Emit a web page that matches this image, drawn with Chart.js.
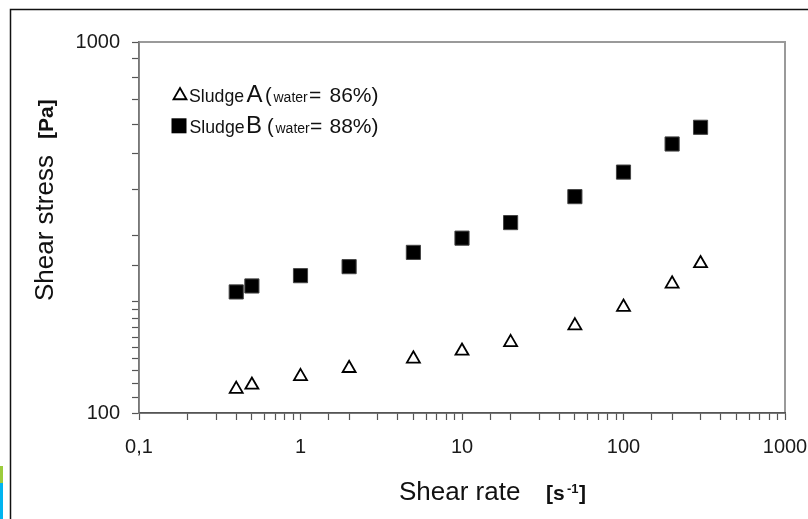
<!DOCTYPE html>
<html>
<head>
<meta charset="utf-8">
<script src="https://cdn.jsdelivr.net/npm/chart.js@4/dist/chart.umd.min.js"></script>
<style>
html,body{margin:0;padding:0;background:#fff;}
canvas{display:block;}
</style>
</head>
<body>
<canvas id="c" width="808" height="519"></canvas>
<script>
// ---- data ----
const shearRate = [0.4, 0.5, 1, 2, 5, 10, 20, 50, 100, 200, 300];
const sludgeA = [116, 119, 125.5, 132, 140, 147, 155, 172, 193, 223, 253];
const sludgeB = [212, 220, 234.5, 248, 271, 296, 326, 383, 446, 531, 589];
const xMajor = [0.1, 1, 10, 100, 1000];
const xTickLabels = ['0,1', '1', '10', '100', '1000'];
const yMajor = [100, 1000];
const yTickLabels = ['100', '1000'];

const FAM = '"Liberation Sans", Arial, Helvetica, sans-serif';

function labelFor(v, majors, labels) {
  for (let i = 0; i < majors.length; i++) {
    if (Math.abs(Math.log10(v) - Math.log10(majors[i])) < 1e-6) return labels[i];
  }
  return '';
}

function txt(ctx, s, x, y, size, bold) {
  ctx.font = (bold ? 'bold ' : '') + size + 'px ' + FAM;
  ctx.fillText(s, x, y);
}

const decor = {
  id: 'decor',
  beforeDraw(chart) {
    const ctx = chart.ctx;
    ctx.save();
    ctx.fillStyle = '#fff';
    ctx.fillRect(0, 0, chart.width, chart.height);
    ctx.strokeStyle = '#111';
    ctx.lineWidth = 1.5;
    ctx.strokeRect(10.5, 9.5, 1000, 1000);
    ctx.fillStyle = '#9ccc3c';
    ctx.fillRect(0, 466, 3, 17);
    ctx.fillStyle = '#00b4f0';
    ctx.fillRect(0, 483, 3, 36);
    const a = chart.chartArea;
    ctx.strokeStyle = '#9a9a9a';
    ctx.lineWidth = 2;
    ctx.strokeRect(a.left, a.top, a.right - a.left, a.bottom - a.top);
    ctx.restore();
  },
  afterDraw(chart) {
    const ctx = chart.ctx;
    ctx.save();
    ctx.textAlign = 'left';
    ctx.textBaseline = 'alphabetic';
    // legend line 1
    ctx.fillStyle = '#fff';
    ctx.strokeStyle = '#000';
    ctx.lineWidth = 1.8;
    Chart.helpers.drawPoint(ctx, {pointStyle: 'triangle', radius: 7.5, borderWidth: 1.8, rotation: 0}, 180, 95.5);
    ctx.fillStyle = '#111';
    txt(ctx, 'Sludge', 189, 101.5, 17.7, false);
    txt(ctx, 'A', 246.5, 101.5, 24, false);
    txt(ctx, '(', 265, 101.5, 20, false);
    txt(ctx, 'water', 273.5, 101.5, 14, false);
    txt(ctx, '=', 309, 101.5, 21, false);
    txt(ctx, '86%)', 329.5, 101.5, 21, false);
    // legend line 2
    ctx.fillStyle = '#000';
    ctx.fillRect(171.5, 118.3, 15, 15);
    ctx.fillStyle = '#111';
    txt(ctx, 'Sludge', 189.5, 133.3, 17.7, false);
    txt(ctx, 'B', 246, 133.3, 24, false);
    txt(ctx, '(', 267, 133.3, 20, false);
    txt(ctx, 'water', 275.5, 133.3, 14, false);
    txt(ctx, '=', 310, 133.3, 21, false);
    txt(ctx, '88%)', 329.5, 133.3, 21, false);
    // x title
    txt(ctx, 'Shear rate', 399, 500, 26, false);
    txt(ctx, '[s', 546, 500, 21, true);
    txt(ctx, '-1', 567, 493, 13, true);
    txt(ctx, ']', 579, 500, 21, true);
    // y title
    ctx.translate(53, 0);
    ctx.rotate(-Math.PI / 2);
    txt(ctx, 'Shear stress', -301, 0, 26, false);
    txt(ctx, '[Pa]', -139, 0, 21, true);
    ctx.restore();
  }
};

const tickFont = {size: 20, family: FAM};

new Chart(document.getElementById('c'), {
  type: 'scatter',
  data: {
    datasets: [
      {
        label: 'Sludge A',
        data: shearRate.map((x, i) => ({x: x, y: sludgeA[i]})),
        pointStyle: 'triangle',
        radius: 7.5,
        borderWidth: 1.8,
        borderColor: '#000',
        backgroundColor: '#fff',
        showLine: false
      },
      {
        label: 'Sludge B',
        data: shearRate.map((x, i) => ({x: x, y: sludgeB[i]})),
        pointStyle: 'rect',
        radius: 10,
        borderWidth: 1,
        borderColor: '#444',
        backgroundColor: '#000',
        showLine: false
      }
    ]
  },
  options: {
    responsive: false,
    animation: false,
    devicePixelRatio: 1,
    layout: {padding: {left: 0, top: 42, right: 23, bottom: 46}},
    plugins: {legend: {display: false}, tooltip: {enabled: false}},
    scales: {
      x: {
        type: 'logarithmic',
        min: 0.1,
        max: 1000,
        position: 'bottom',
        border: {display: true, color: '#555', width: 1.5},
        grid: {drawOnChartArea: false, drawTicks: true, tickLength: 7, tickColor: '#555', tickWidth: 1.2},
        ticks: {
          autoSkip: false, maxRotation: 0, padding: 15, color: '#1a1a1a', font: tickFont,
          callback: (v) => labelFor(v, xMajor, xTickLabels)
        },
        afterFit(s) { s.height = 60; s.paddingLeft = 0; s.paddingRight = 0; }
      },
      y: {
        type: 'logarithmic',
        min: 100,
        max: 1000,
        position: 'left',
        border: {display: true, color: '#777', width: 1.5},
        grid: {drawOnChartArea: false, drawTicks: true, tickLength: 7, tickColor: '#555', tickWidth: 1.2},
        ticks: {
          autoSkip: false, padding: 12, color: '#1a1a1a', font: tickFont,
          callback: (v) => labelFor(v, yMajor, yTickLabels)
        },
        afterFit(s) { s.width = 139; s.paddingTop = 0; s.paddingBottom = 0; }
      }
    }
  },
  plugins: [decor]
});
</script>
</body>
</html>
